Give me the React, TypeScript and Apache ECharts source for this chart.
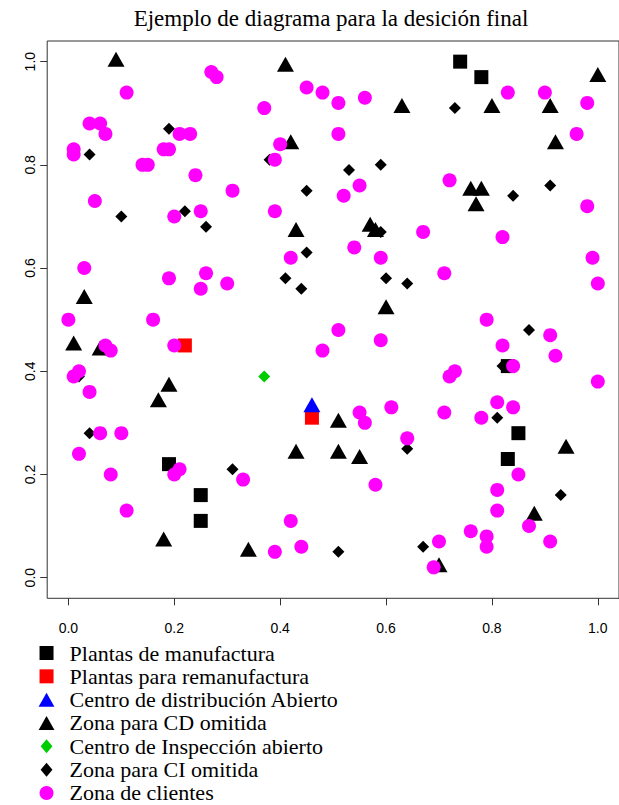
import React, { useEffect, useRef } from "react";
import * as echarts from "echarts";

// Ubicaciones (x, y) de cada tipo de instalación en el plano unitario
const plantasManufactura: number[][] = [
  [0.74, 1.0], [0.78, 0.97], [0.19, 0.22], [0.25, 0.16], [0.25, 0.11],
  [0.85, 0.28], [0.83, 0.23], [0.83, 0.41],
];

const plantasRemanufactura: number[][] = [
  [0.22, 0.45], [0.46, 0.31],
];

const cdAbierto: number[][] = [[0.46, 0.33]];

const cdOmitida: number[][] = [
  [0.09, 1.0], [0.41, 0.99], [0.63, 0.91], [0.42, 0.84], [0.43, 0.67],
  [0.57, 0.68], [0.58, 0.67], [0.6, 0.52], [1.0, 0.97], [0.8, 0.91],
  [0.91, 0.91], [0.92, 0.84], [0.76, 0.75], [0.78, 0.75], [0.77, 0.72],
  [0.03, 0.54], [0.01, 0.45], [0.06, 0.44], [0.19, 0.37], [0.17, 0.34],
  [0.18, 0.07], [0.51, 0.3], [0.43, 0.24], [0.51, 0.24], [0.55, 0.23],
  [0.34, 0.05], [0.94, 0.25], [0.88, 0.12], [0.7, 0.02],
];

const ciAbierto: number[][] = [[0.37, 0.39]];

const ciOmitida: number[][] = [
  [0.04, 0.82], [0.19, 0.87], [0.1, 0.7], [0.22, 0.71], [0.26, 0.68],
  [0.38, 0.81], [0.53, 0.79], [0.59, 0.8], [0.45, 0.75], [0.59, 0.67],
  [0.45, 0.63], [0.41, 0.58], [0.44, 0.56], [0.6, 0.58], [0.64, 0.57],
  [0.73, 0.91], [0.84, 0.74], [0.91, 0.76], [0.02, 0.39], [0.04, 0.28],
  [0.31, 0.21], [0.64, 0.25], [0.51, 0.05], [0.67, 0.06], [0.87, 0.48],
  [0.82, 0.41], [0.81, 0.31], [0.93, 0.16],
];

const clientes: number[][] = [
  [0.27, 0.98], [0.28, 0.97], [0.11, 0.94], [0.04, 0.88], [0.06, 0.88],
  [0.07, 0.86], [0.01, 0.83], [0.01, 0.82], [0.21, 0.86], [0.23, 0.86],
  [0.18, 0.83], [0.19, 0.83], [0.14, 0.8], [0.15, 0.8], [0.24, 0.78],
  [0.31, 0.75], [0.05, 0.73], [0.2, 0.7], [0.25, 0.71], [0.03, 0.6],
  [0.19, 0.58], [0.26, 0.59], [0.25, 0.56], [0.3, 0.57], [0.0, 0.5],
  [0.16, 0.5],
  [0.45, 0.95], [0.48, 0.94], [0.51, 0.92], [0.56, 0.93], [0.37, 0.91],
  [0.51, 0.86], [0.4, 0.84], [0.39, 0.81], [0.55, 0.76], [0.52, 0.74],
  [0.39, 0.71], [0.67, 0.67], [0.42, 0.62], [0.54, 0.64], [0.59, 0.62],
  [0.83, 0.94], [0.9, 0.94], [0.98, 0.92], [0.96, 0.86], [0.72, 0.77],
  [0.98, 0.72], [0.82, 0.66], [0.99, 0.62], [0.71, 0.59], [1.0, 0.57],
  [0.79, 0.5],
  [0.07, 0.45], [0.08, 0.44], [0.2, 0.45], [0.01, 0.39], [0.02, 0.4],
  [0.04, 0.36], [0.06, 0.28], [0.1, 0.28], [0.02, 0.24], [0.08, 0.2],
  [0.2, 0.2], [0.21, 0.21], [0.11, 0.13],
  [0.51, 0.48], [0.48, 0.44], [0.59, 0.46], [0.55, 0.32], [0.56, 0.3],
  [0.61, 0.33], [0.64, 0.27], [0.33, 0.19], [0.58, 0.18], [0.42, 0.11],
  [0.39, 0.05], [0.44, 0.06],
  [0.91, 0.47], [0.82, 0.45], [0.92, 0.43], [0.84, 0.41], [0.73, 0.4],
  [0.72, 0.39], [1.0, 0.38], [0.71, 0.32], [0.81, 0.34], [0.84, 0.33],
  [0.78, 0.31], [0.85, 0.2], [0.81, 0.17], [0.81, 0.13], [0.87, 0.1],
  [0.76, 0.09], [0.79, 0.08], [0.79, 0.06], [0.91, 0.07], [0.7, 0.07],
  [0.69, 0.02],
];

const ticks: number[] = [0, 0.2, 0.4, 0.6, 0.8, 1.0];

const titulo = "Ejemplo de diagrama para la desición final";

const nombres: string[] = [
  "Plantas de manufactura",
  "Plantas para remanufactura",
  "Centro de distribución Abierto",
  "Zona para CD omitida",
  "Centro de Inspección abierto",
  "Zona para CI omitida",
  "Zona de clientes",
];

const SERIF = '"Liberation Serif", "Times New Roman", serif';
const SANS = '"Liberation Sans", Arial, Helvetica, sans-serif';

// Triangles are shifted so that the data point sits at their centroid
const TRI: [number, number] = [17, 15];
const TRI_OFFSET: [number, number] = [0, -2.5];

// Legend icons as paths so that they keep their own aspect ratio
const ICON_SQUARE = "path://M0,0H14V14H0Z";
const ICON_TRIANGLE = "path://M8.5,0L17,15L0,15Z";
const ICON_DIAMOND = "path://M5.5,0L11,6.5L5.5,13L0,6.5Z";
const legendIcons: string[] = [
  ICON_SQUARE,
  ICON_SQUARE,
  ICON_TRIANGLE,
  ICON_TRIANGLE,
  ICON_DIAMOND,
  ICON_DIAMOND,
  "circle",
];

export default function App() {
  const ref = useRef<HTMLDivElement>(null);

  useEffect(() => {
    if (!ref.current) return;
    const chart = echarts.init(ref.current, undefined, { renderer: "svg" });

    const scatter = (
      name: string,
      data: number[][],
      symbol: string,
      size: number | [number, number],
      color: string,
      offset?: [number, number]
    ) => ({
      name,
      type: "scatter",
      data,
      symbol,
      symbolSize: size,
      symbolOffset: offset || [0, 0],
      itemStyle: { color, opacity: 1 },
      emphasis: { disabled: true },
    });

    const axisCommon = {
      type: "value",
      min: -0.04,
      max: 1.04,
      splitLine: { show: false },
      axisLine: { show: false, onZero: false },
      axisTick: {
        show: true,
        customValues: ticks,
        length: 7,
        lineStyle: { color: "#333", width: 1 },
      },
    };

    chart.setOption({
      animation: false,
      backgroundColor: "#fff",
      graphic: [
        {
          type: "text",
          x: 331,
          y: 18,
          style: {
            text: titulo,
            font: `23px ${SERIF}`,
            textAlign: "center",
            textVerticalAlign: "middle",
            fill: "#000",
          },
        },
      ],
      grid: {
        left: 47.2,
        top: 41,
        width: 576.1,
        height: 557.3,
        show: true,
        borderColor: "#333",
        borderWidth: 1,
        backgroundColor: "transparent",
      },
      xAxis: {
        ...axisCommon,
        position: "bottom",
        axisLabel: {
          customValues: ticks,
          formatter: (v: number) => v.toFixed(1),
          margin: 23,
          fontFamily: SANS,
          fontSize: 14,
          color: "#000",
        },
      },
      yAxis: {
        ...axisCommon,
        position: "left",
        axisLabel: {
          customValues: ticks,
          formatter: (v: number) => v.toFixed(1),
          rotate: 90,
          margin: 10,
          fontFamily: SANS,
          fontSize: 14,
          color: "#000",
        },
      },
      legend: {
        orient: "vertical",
        left: 38.6,
        top: 642,
        height: 200,
        padding: 0,
        itemWidth: 36,
        itemHeight: 14,
        itemGap: 1.33,
        selectedMode: false,
        symbolKeepAspect: true,
        textStyle: {
          fontFamily: SERIF,
          fontSize: 22,
          lineHeight: 22,
          color: "#000",
        },
        data: nombres.map((name, i) => ({ name, icon: legendIcons[i] })),
      },
      series: [
        scatter(nombres[0], plantasManufactura, "rect", 14, "#000000"),
        scatter(nombres[1], plantasRemanufactura, "rect", 14, "#FF0000"),
        scatter(nombres[2], cdAbierto, "triangle", TRI, "#0000FF", TRI_OFFSET),
        scatter(nombres[3], cdOmitida, "triangle", TRI, "#000000", TRI_OFFSET),
        scatter(nombres[4], ciAbierto, "diamond", 12, "#00CD00"),
        scatter(nombres[5], ciOmitida, "diamond", 12, "#000000"),
        scatter(nombres[6], clientes, "circle", 14, "#FF00FF"),
      ],
    });

    return () => chart.dispose();
  }, []);

  return (
    <div
      ref={ref}
      style={{ position: "absolute", left: 0, top: 0, width: 619, height: 805 }}
    />
  );
}
